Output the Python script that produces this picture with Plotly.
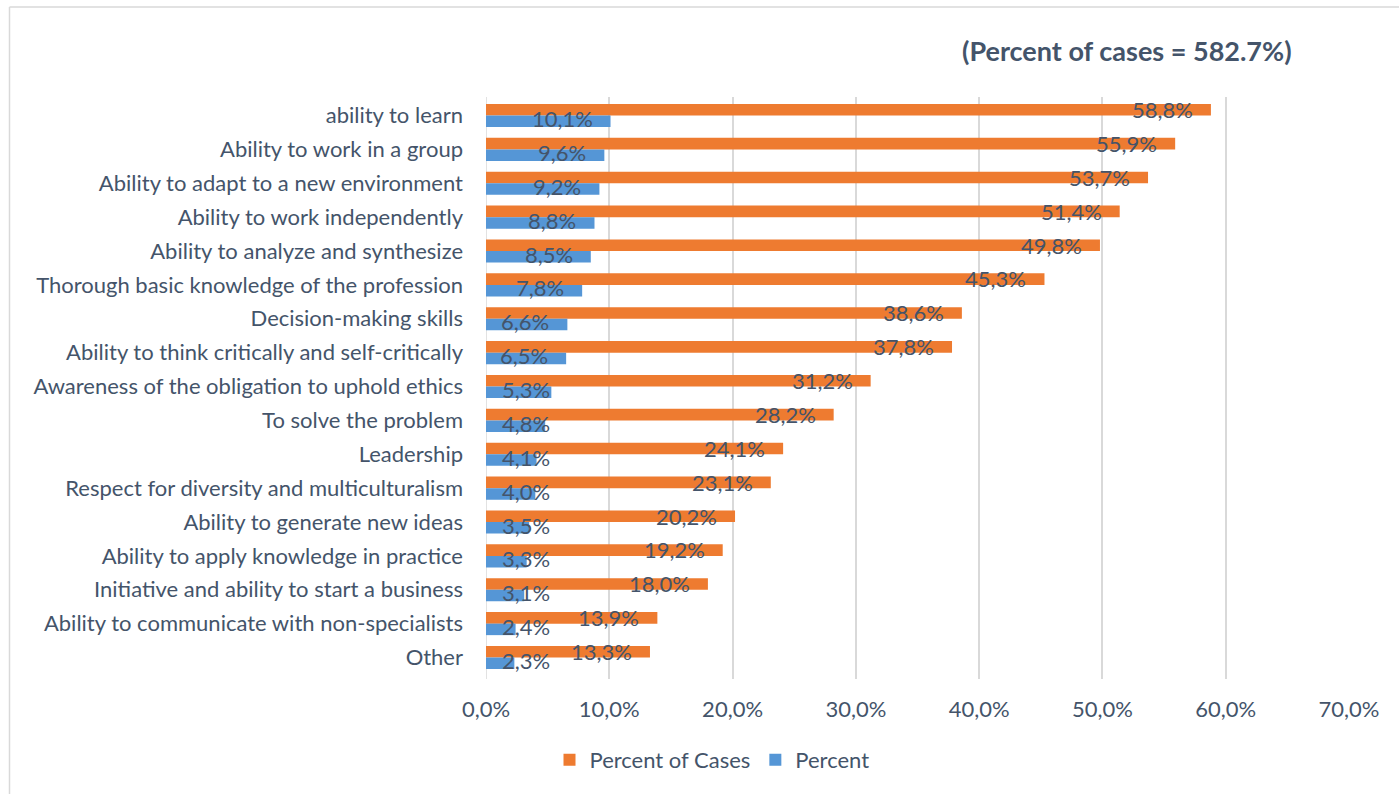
import plotly.graph_objects as go

categories = [
    "ability to learn",
    "Ability to work in a group",
    "Ability to adapt to a new environment",
    "Ability to work independently",
    "Ability to analyze and synthesize",
    "Thorough basic knowledge of the profession",
    "Decision-making skills",
    "Ability to think critically and self-critically",
    "Awareness of the obligation to uphold ethics",
    "To solve the problem",
    "Leadership",
    "Respect for diversity and multiculturalism",
    "Ability to generate new ideas",
    "Ability to apply knowledge in practice",
    "Initiative and ability to start a business",
    "Ability to communicate with non-specialists",
    "Other",
]
percent_of_cases = [58.8, 55.9, 53.7, 51.4, 49.8, 45.3, 38.6, 37.8, 31.2, 28.2,
                    24.1, 23.1, 20.2, 19.2, 18.0, 13.9, 13.3]
percent = [10.1, 9.6, 9.2, 8.8, 8.5, 7.8, 6.6, 6.5, 5.3, 4.8,
           4.1, 4.0, 3.5, 3.3, 3.1, 2.4, 2.3]
x_ticks = [0, 10, 20, 30, 40, 50, 60, 70]
title_text = "(Percent of cases = 582.7%)"

TXT = "#44546A"
FONT = "Lato"
FS = 22
ORANGE = "#EE7B30"
BLUE = "#5596D6"

def fmt(v):
    return f"{v:.1f}%".replace(".", ",")

fig = go.Figure()
fig.add_trace(go.Bar(y=categories, x=percent_of_cases, orientation="h",
                     name="Percent of Cases", marker=dict(color=ORANGE, line=dict(width=0))))
fig.add_trace(go.Bar(y=categories, x=percent, orientation="h",
                     name="Percent", marker=dict(color=BLUE, line=dict(width=0))))

annotations = []
for series, ysh in ((percent_of_cases, 6), (percent, -3)):
    for cat, v in zip(categories, series):
        if v >= 6.4:
            annotations.append(dict(x=v, y=cat, xref="x", yref="y", text=fmt(v),
                                    showarrow=False, xanchor="right", xshift=-16,
                                    yshift=ysh, font=dict(family=FONT, size=FS, color=TXT)))
        else:
            annotations.append(dict(x=0, y=cat, xref="x", yref="y", text=fmt(v),
                                    showarrow=False, xanchor="left", xshift=14,
                                    yshift=ysh, font=dict(family=FONT, size=FS, color=TXT)))

L, R, T, B = 486, 50, 97, 115
W, H = 1399, 794
pw, ph = W - L - R, H - T - B
def px_x(x):
    return (x - L) / pw
def px_y(y):
    return (H - B - y) / ph

annotations.append(dict(x=px_x(1294), y=px_y(50), xref="paper", yref="paper",
                        text="<b>" + title_text + "</b>", xanchor="right", yanchor="middle",
                        showarrow=False, font=dict(family=FONT, size=27, color=TXT)))

fig.update_layout(
    width=W, height=H,
    margin=dict(l=L, r=R, t=T, b=B),
    paper_bgcolor="white", plot_bgcolor="white",
    barmode="group", bargap=0.32, bargroupgap=0,
    font=dict(family=FONT, size=FS, color=TXT),
    xaxis=dict(range=[0, 70], tickmode="array", tickvals=x_ticks,
               ticktext=[fmt(v) for v in x_ticks],
               showgrid=True, gridcolor="#D9D9D9", gridwidth=1.5, zeroline=False,
               showline=False, ticks="", ticklabelstandoff=15,
               tickfont=dict(family=FONT, size=FS, color=TXT), fixedrange=True),
    yaxis=dict(categoryorder="array", categoryarray=categories, autorange="reversed",
               showgrid=False, zeroline=False, showline=False, ticks="",
               ticklabelstandoff=22,
               tickfont=dict(family=FONT, size=FS, color=TXT)),
    legend=dict(orientation="h", x=px_x(712), xanchor="center", y=px_y(760), yanchor="middle",
                font=dict(family=FONT, size=FS, color=TXT), itemwidth=30, traceorder="normal"),
    showlegend=True,
    annotations=annotations,
    shapes=[
        dict(type="line", xref="paper", yref="paper", x0=px_x(9.5), x1=px_x(1399), y0=px_y(7), y1=px_y(7),
             line=dict(color="#D9D9D9", width=1.5)),
        dict(type="line", xref="paper", yref="paper", x0=px_x(9.5), x1=px_x(9.5), y0=px_y(7), y1=px_y(794),
             line=dict(color="#D9D9D9", width=1.5)),
        dict(type="line", xref="x", yref="paper", x0=0, x1=0, y0=0, y1=1,
             line=dict(color="#D9D9D9", width=1.5), layer="below"),
    ],
)

fig.write_html("out.html")
